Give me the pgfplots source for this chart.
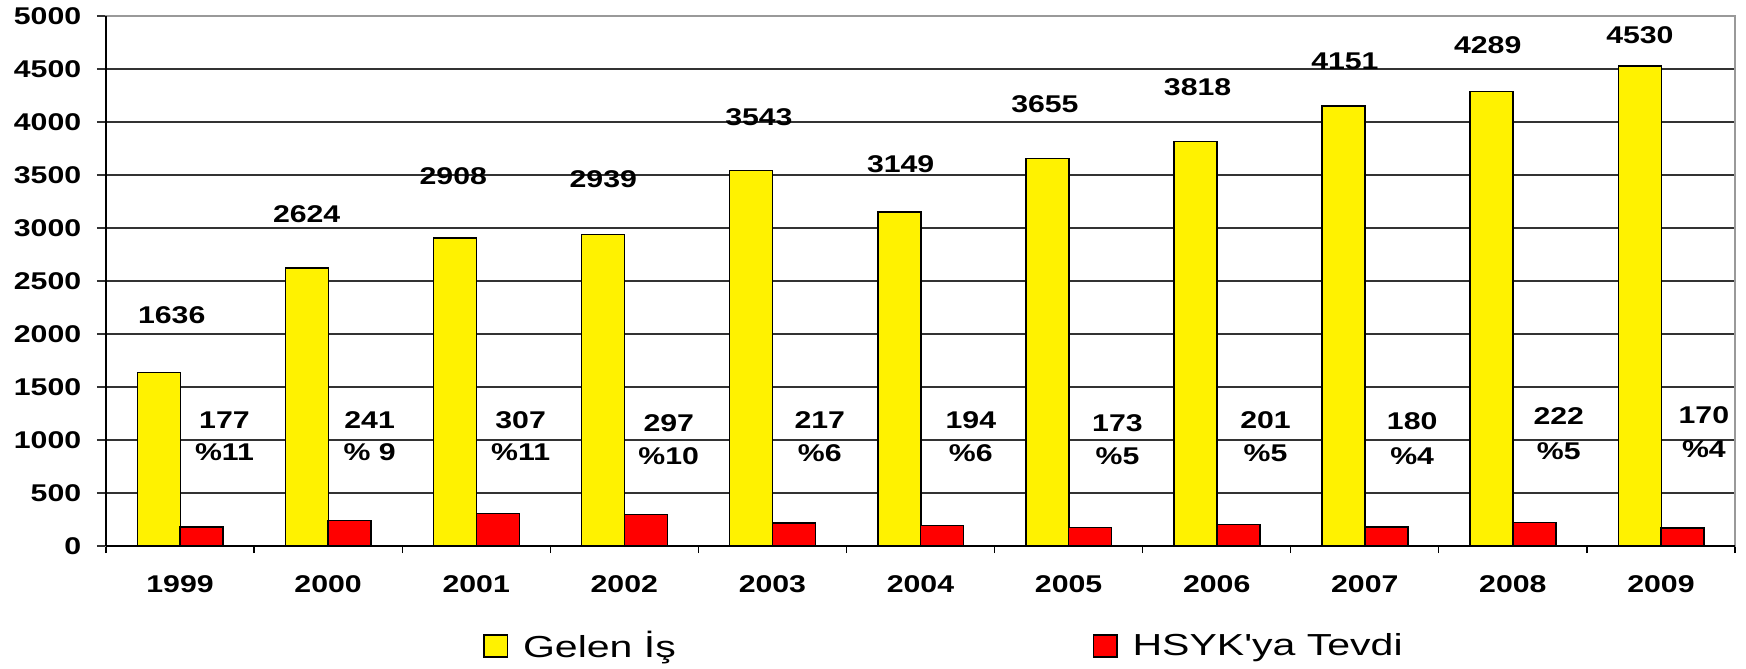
\documentclass[border=0pt]{standalone}
\usepackage{pgfplots}
\pgfplotsset{compat=1.18}
\usepackage{fontspec}
\setmainfont{Liberation Sans}[FakeStretch=1.25]
\newfontfamily\legfont{Liberation Sans}[FakeStretch=1.35]
\pgfplotsset{sqlegend/.style={legend image code/.code={\draw[##1] (0pt,-5.5pt) rectangle (11.6pt,5.5pt);}}}
\begin{document}
\begin{tikzpicture}
\begin{axis}[
  at={(0,0)}, anchor=south west,
  scale only axis, width=814.5pt, height=265pt,
  xmin=-0.5, xmax=10.5, ymin=0, ymax=5000,
  clip=false,
  axis line style={draw=black!40, line width=1pt},
  xtick={0,...,10},
  xticklabels={1999,2000,2001,2002,2003,2004,2005,2006,2007,2008,2009},
  minor xtick={-0.5,0.5,...,10.5},
  ytick={0,500,...,5000},
  tick pos=left, tick align=outside,
  major tick length=4.5pt, minor tick length=3.5pt,
  major x tick style={draw=none},
  minor x tick style={black, line width=0.6pt},
  y tick style={black!80, line width=0.55pt},
  ymajorgrids, major grid style={black!80, line width=0.55pt},
  /pgf/number format/1000 sep={},
  /pgf/number format/assume math mode=true,
  ticklabel style={font=\fontsize{12.1pt}{14pt}\selectfont\bfseries, inner sep=0pt},
  yticklabel style={anchor=east, xshift=-7.7pt},
  xticklabel style={anchor=north, yshift=-10pt},
  legend style={at={(0.2314,-0.1887)}, anchor=west, draw=none, fill=none,
    inner sep=0pt, legend columns=2, legend cell align=left,
    nodes={inner sep=0pt},
    font=\legfont\fontsize{15.2pt}{18pt}\selectfont,
    /tikz/every odd column/.append style={column sep=7.5pt}},
  every node near coord/.append style={anchor=center, black, inner sep=0pt,
    font=\fontsize{12.1pt}{14pt}\selectfont\bfseries},
]
\addplot[ybar, bar width=21.5pt, bar shift=-10.6pt, fill=yellow, draw=black, line width=0.75pt, sqlegend]
  coordinates {(0,1636) (1,2624) (2,2908) (3,2939) (4,3543) (5,3149) (6,3655) (7,3818) (8,4151) (9,4289) (10,4530)};
\addlegendentry{\makebox[284.9pt][l]{Gelen İş}}
\addplot[ybar, bar width=21.5pt, bar shift=10.8pt, fill=red, draw=black, line width=0.75pt, sqlegend]
  coordinates {(0,177) (1,241) (2,307) (3,297) (4,217) (5,194) (6,173) (7,201) (8,180) (9,222) (10,170)};
\addlegendentry{HSYK'ya Tevdi}
% value labels of Gelen Is
\addplot[draw=none, nodes near coords, point meta=explicit symbolic]
  coordinates {(-0.056,2182) [1636] (0.855,3129) [2624] (1.845,3493) [2908] (2.858,3462) [2939]
   (3.909,4050) [3543] (4.866,3604) [3149] (5.840,4170) [3655] (6.871,4327) [3818]
   (7.866,4569) [4151] (8.83,4726) [4289] (9.858,4821) [4530]};
% value labels of HSYK'ya Tevdi
\addplot[draw=none, nodes near coords, point meta=explicit symbolic]
  coordinates {(0.30,1190) [177] (1.28,1190) [241] (2.30,1190) [307] (3.30,1160) [297]
   (4.32,1190) [217] (5.34,1190) [194] (6.33,1160) [173] (7.33,1190) [201]
   (8.32,1178) [180] (9.31,1225) [222] (10.29,1231) [170]};
\addplot[draw=none, nodes near coords, point meta=explicit symbolic]
  coordinates {(0.30,885) [\%11] (1.28,885) [\% 9] (2.30,885) [\%11] (3.30,845) [\%10]
   (4.32,875) [\%6] (5.34,875) [\%6] (6.33,843) [\%5] (7.33,880) [\%5]
   (8.32,850) [\%4] (9.31,897) [\%5] (10.29,912) [\%4]};
\draw[black, line width=1pt] (rel axis cs:0,0) -- (rel axis cs:0,1);
\draw[black, line width=1pt] (rel axis cs:0,0) -- (rel axis cs:1,0);
\end{axis}
\pgfresetboundingbox
\path (-53pt,-61.5pt) rectangle (820pt,273pt);
\end{tikzpicture}
\end{document}
